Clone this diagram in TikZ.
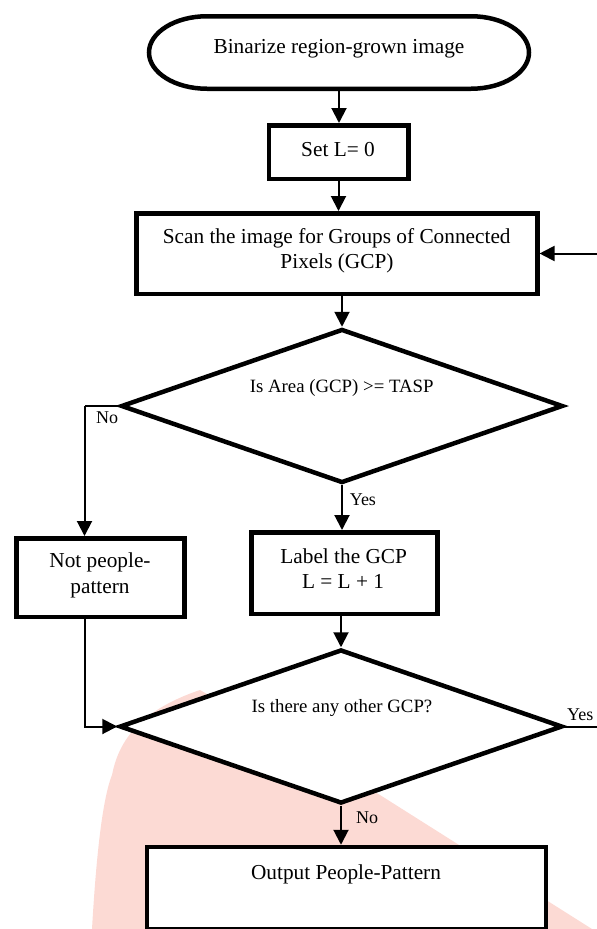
\documentclass[tikz,border=0pt]{standalone}
\usepackage{fontspec}
\setmainfont{Liberation Serif}
\usetikzlibrary{arrows.meta,shapes.geometric}
\definecolor{pinkwm}{RGB}{252,218,212}
\newcommand\mainsz{\fontsize{21.3pt}{25pt}\selectfont}
\newcommand\diasz{\fontsize{18.8pt}{22pt}\selectfont}
\newcommand\lblsz{\fontsize{18pt}{21pt}\selectfont}
\tikzset{
  boxnode/.style={draw, rectangle, line width=4.5pt, fill=white, inner sep=0pt},
  dianode/.style={draw, diamond, line width=4.5pt, fill=white, inner sep=0pt, miter limit=10},
  arr/.style={line width=2pt, -{Triangle[length=15pt,width=15pt]}},
  conn/.style={line width=2pt},
  txt/.style={font=\mainsz, anchor=base, inner sep=0pt},
  dtxt/.style={font=\diasz, anchor=base, inner sep=0pt},
  lbl/.style={font=\lblsz, anchor=base west, inner sep=0pt}
}
\begin{document}
\begin{tikzpicture}[x=1pt,y=-1pt]
\useasboundingbox (0,0) rectangle (597,929);
% faint watermark
\fill[pinkwm] (200,690) -- (380,795) -- (592,929) -- (92,929)
  .. controls (96,860) and (102,800) .. (112,775)
  .. controls (118,745) and (135,712) .. (200,690) -- cycle;

% terminator
\node[minimum width=385pt, minimum height=77pt, inner sep=0pt] (term) at (339,52.5) {};
\draw[line width=4.5pt, fill=white] (207,16.25) -- (471,16.25)
  arc[start angle=90, end angle=-90, x radius=58pt, y radius=36.25pt]
  -- (207,88.75)
  arc[start angle=270, end angle=90, x radius=58pt, y radius=36.25pt] -- cycle;
\node[txt] (tterm) at (339,53.5) {Binarize region-grown image};

% boxes
\node[boxnode, minimum width=139.5pt, minimum height=53.5pt] (setl) at (338.5,152) {};
\node[txt] (tsetl) at (338,156) {Set L= 0};

\node[boxnode, minimum width=401pt, minimum height=80.5pt] (scan) at (336.8,253.5) {};
\node[txt] (tscan1) at (336.7,243) {Scan the image for Groups of Connected};
\node[txt] (tscan2) at (337,268) {Pixels (GCP)};

\node[dianode, minimum width=442pt, minimum height=154pt] (d1) at (342,406) {};
\node[dtxt] (td1) at (341.7,392) {Is Area (GCP) >= TASP};

\node[boxnode, minimum width=167.6pt, minimum height=78.5pt] (notp) at (100.5,577.5) {};
\node[txt] (tnotp1) at (100,567) {Not people-};
\node[txt] (tnotp2) at (100,593) {pattern};

\node[boxnode, minimum width=186pt, minimum height=81.5pt] (lab) at (344.6,573) {};
\node[txt] (tlab1) at (343.7,563) {Label the GCP};
\node[txt] (tlab2) at (343,588) {L = L + 1};

\node[dianode, minimum width=443pt, minimum height=154pt] (d2) at (341,726.5) {};
\node[dtxt] (td2) at (342,712) {Is there any other GCP?};

\node[boxnode, minimum width=399pt, minimum height=82pt] (outp) at (346.5,888) {};
\node[txt] (toutp) at (346,879) {Output People-Pattern};

% connectors
\coordinate (cl) at (84.5,406);
\coordinate (cr) at (601,726.5);
\draw[arr] (term.south) -- (term.south |- setl.north);
\draw[arr] (setl.south) -- (setl.south |- scan.north);
\draw[arr] (d1.north |- scan.south) -- (d1.north);
\draw[conn] (d1.west) -- (cl);
\draw[arr] (cl) -- (cl |- notp.north);
\draw[arr] (d1.south) -- (d1.south |- lab.north);
\draw[arr] (lab.south -| d2.north) -- (d2.north);
\draw[arr] (cl |- notp.south) |- (d2.west);
\draw[arr] (d2.east) -- (cr) -- (cr |- scan.east) -- (scan.east);
\draw[arr] (d2.south) -- (d2.south |- outp.north);

% labels
\node[lbl] (lno1) at (96,423) {No};
\node[lbl] (lyes1) at (349.6,505) {Yes};
\node[lbl] (lyes2) at (567,720) {Yes};
\node[lbl] (lno2) at (356,823) {No};
\end{tikzpicture}
\end{document}
